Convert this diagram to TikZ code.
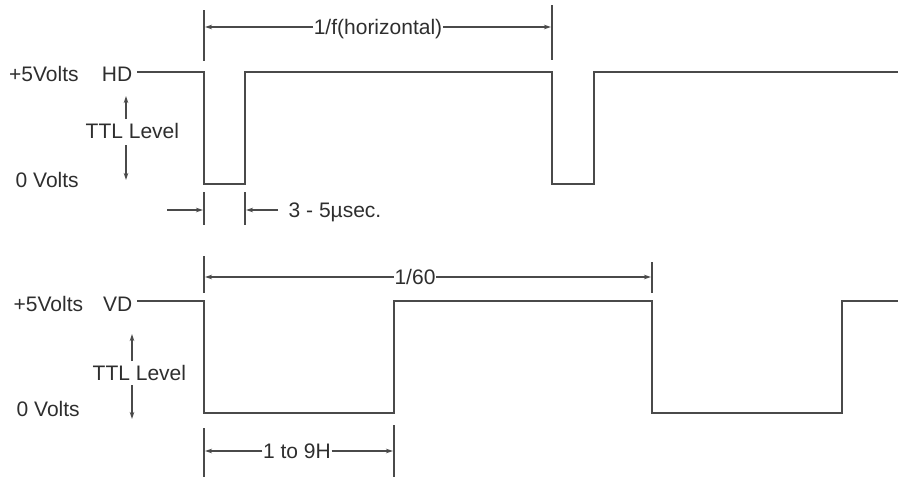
\documentclass[tikz,border=0pt]{standalone}
\usepackage{fontspec}
\setmainfont{Liberation Sans}
\usetikzlibrary{arrows.meta}
\definecolor{linegray}{HTML}{4A4A4A}
\definecolor{textgray}{HTML}{2E2E2E}
\begin{document}
\begin{tikzpicture}[x=1pt,y=-1pt,
  lbl/.style={font=\fontsize{21}{24}\selectfont, text=textgray, inner sep=0.5pt},
  wave/.style={draw=linegray, line width=1.3pt},
  tickline/.style={draw=linegray, line width=1.1pt},
  dim/.style={draw=linegray, line width=1.1pt, -{Stealth[length=7pt,width=4.5pt]}}]
\useasboundingbox (0,0) rectangle (898,477);

% ---------- HD ----------
\node[lbl, anchor=base west] (hdv) at (8.5,81) {+5Volts};
\node[lbl, anchor=base east] (hd) at (133,81) {HD};
\node[lbl, anchor=base west] (hdz) at (15,187) {0 Volts};
\node[lbl, anchor=base west] (hdttl) at (85,138) {TTL Level};

\coordinate (h0) at (137,72);
\coordinate (h1) at (204,72);
\coordinate (h2) at (204,184);
\coordinate (h3) at (245,184);
\coordinate (h4) at (245,72);
\coordinate (h5) at (552,72);
\coordinate (h6) at (552,184);
\coordinate (h7) at (594,184);
\coordinate (h8) at (594,72);
\coordinate (h9) at (898,72);
\draw[wave] (h0) -- (h1) -- (h2) -- (h3) -- (h4) -- (h5) -- (h6) -- (h7) -- (h8) -- (h9);

% TTL arrows (HD)
\coordinate (hu0) at (126,119);
\coordinate (hu1) at (126,96);
\coordinate (hd0) at (126,145);
\coordinate (hd1) at (126,180);
\draw[dim] (hu0) -- (hu1);
\draw[dim] (hd0) -- (hd1);

% 1/f(horizontal)
\coordinate (fa) at (204,10);
\coordinate (fb) at (204,61);
\coordinate (fc) at (552,5);
\coordinate (fd) at (552,60);
\draw[tickline] (fa) -- (fb);
\draw[tickline] (fc) -- (fd);
\node[lbl, anchor=base] (flbl) at (378,34.5) {1/f(horizontal)};
\coordinate (fl) at (205,27);
\coordinate (fr) at (551,27);
\draw[dim] (flbl.west |- fl) -- (fl);
\draw[dim] (flbl.east |- fr) -- (fr);

% 3 - 5 usec
\coordinate (pa) at (204,192);
\coordinate (pb) at (204,225);
\coordinate (pc) at (245,192);
\coordinate (pd) at (245,225);
\draw[tickline] (pa) -- (pb);
\draw[tickline] (pc) -- (pd);
\coordinate (ps) at (167,210);
\coordinate (pl) at (203,210);
\coordinate (pr) at (246,210);
\draw[dim] (ps) -- (pl);
\node[lbl, anchor=base west] (plbl) at (288,217.5) {3 - 5µsec.};
\draw[dim] ([xshift=-10pt]plbl.west |- pr) -- (pr);

% ---------- VD ----------
\node[lbl, anchor=base west] (vdv) at (13,311) {+5Volts};
\node[lbl, anchor=base east] (vd) at (133,311) {VD};
\node[lbl, anchor=base west] (vdz) at (16,416) {0 Volts};
\node[lbl, anchor=base west] (vdttl) at (92,380) {TTL Level};

\coordinate (v0) at (137,301);
\coordinate (v1) at (204,301);
\coordinate (v2) at (204,413);
\coordinate (v3) at (394,413);
\coordinate (v4) at (394,301);
\coordinate (v5) at (652,301);
\coordinate (v6) at (652,413);
\coordinate (v7) at (842,413);
\coordinate (v8) at (842,301);
\coordinate (v9) at (898,301);
\draw[wave] (v0) -- (v1) -- (v2) -- (v3) -- (v4) -- (v5) -- (v6) -- (v7) -- (v8) -- (v9);

% TTL arrows (VD)
\coordinate (vu0) at (132,361);
\coordinate (vu1) at (132,334);
\coordinate (vd0) at (132,385);
\coordinate (vd1) at (132,419);
\draw[dim] (vu0) -- (vu1);
\draw[dim] (vd0) -- (vd1);

% 1/60
\coordinate (sa) at (204,256);
\coordinate (sb) at (204,293);
\coordinate (sc) at (652,262);
\coordinate (sd) at (652,293);
\draw[tickline] (sa) -- (sb);
\draw[tickline] (sc) -- (sd);
\node[lbl, anchor=base] (slbl) at (415,284.5) {1/60};
\coordinate (sl) at (205,277);
\coordinate (sr) at (651,277);
\draw[dim] (slbl.west |- sl) -- (sl);
\draw[dim] (slbl.east |- sr) -- (sr);

% 1 to 9H
\coordinate (na) at (204,428);
\coordinate (nb) at (204,477);
\coordinate (nc) at (394,425);
\coordinate (nd) at (394,477);
\draw[tickline] (na) -- (nb);
\draw[tickline] (nc) -- (nd);
\node[lbl, anchor=base] (nlbl) at (297,458.5) {1 to 9H};
\coordinate (nl) at (205,451);
\coordinate (nr) at (393,451);
\draw[dim] (nlbl.west |- nl) -- (nl);
\draw[dim] (nlbl.east |- nr) -- (nr);
\end{tikzpicture}
\end{document}
